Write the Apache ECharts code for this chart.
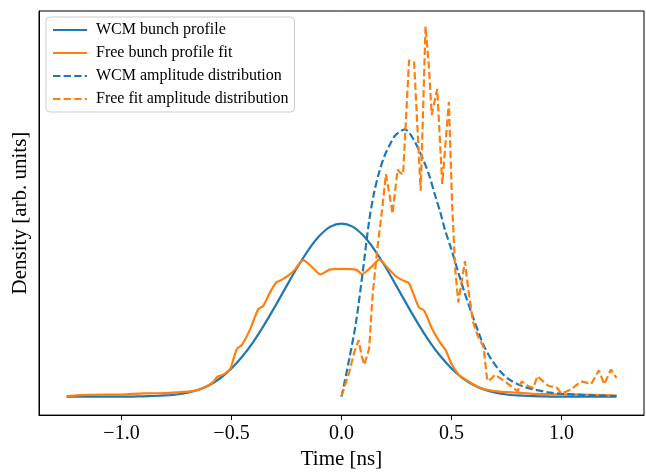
<!DOCTYPE html>
<html><head><meta charset="utf-8">
<script src="https://cdn.jsdelivr.net/npm/echarts@6/dist/echarts.min.js"></script>
<style>html,body{margin:0;padding:0;background:#fff}#c{width:646px;height:475px}</style>
</head><body><div id="c"></div>
<script>
// x tick labels (ns)
const xTicks = [-1.0, -0.5, 0.0, 0.5, 1.0];

// WCM bunch profile (solid blue)
const wcmX = [-1.25,-1.2,-1.15,-1.1,-1.05,-1.0,-0.95,-0.9,-0.85,-0.8,-0.75,-0.7,-0.65,-0.6,-0.55,-0.5,-0.45,-0.4,-0.35,-0.3,-0.25,-0.2,-0.15,-0.1,-0.05,0,
  0.05,0.1,0.15,0.2,0.25,0.3,0.35,0.4,0.45,0.5,0.55,0.6,0.65,0.7,0.75,0.8,0.85,0.9,0.95,1.0,1.05,1.1,1.15,1.2,1.25];
const wcmY = [0,0,0,0.01,0.01,0.02,0.05,0.1,0.2,0.35,0.6,1.1,1.9,3.2,5.1,7.7,11.0,15.0,19.7,24.8,30.1,35.3,40.0,43.8,46.3,47.1,
  46.3,43.8,40.0,35.3,30.1,24.8,19.7,15.0,11.0,7.7,5.1,3.2,1.9,1.1,0.6,0.35,0.2,0.1,0.05,0.02,0.01,0.01,0,0,0];

// Free bunch profile fit (solid orange)
const freeX = [-1.25,-1.15,-1.0,-0.9,-0.8,-0.72,-0.67,-0.62,-0.58,-0.565,-0.536,-0.506,-0.49,-0.475,-0.453,-0.415,-0.378,-0.356,-0.325,-0.295,-0.272,-0.235,-0.212,-0.175,-0.13,
  -0.095,-0.054,0.0,0.066,0.093,0.13,0.172,0.209,0.247,0.284,0.307,0.352,0.375,0.412,0.445,0.473,0.502,0.533,0.563,0.623,0.668,0.73,0.80,0.873,1.03,1.15,1.25];
const freeY = [0.2,0.5,0.6,0.9,1.0,1.3,1.6,2.6,4.2,5.4,6.1,7.6,10.5,13.0,14.1,18.4,23.9,24.7,28.4,31.2,31.8,33.3,34.6,37.2,35.1,
  33.3,34.6,34.8,34.6,33.4,35.0,37.3,35.1,32.8,31.5,30.9,24.3,23.5,18.5,15.0,12.7,8.7,6.0,4.7,2.6,1.8,1.3,1.1,0.8,0.64,0.5,0.3];

// WCM amplitude distribution (dashed blue)
const wcmAmpX = [0,0.036,0.066,0.096,0.126,0.148,0.172,0.195,0.217,0.241,0.262,0.288,0.307,0.33,0.353,0.375,0.397,0.427,0.45,0.47,
  0.5,0.53,0.557,0.593,0.623,0.65,0.683,0.72,0.762,0.82,0.873,0.94,1.0,1.06,1.15,1.25];
const wcmAmpY = [0,10.5,20.3,33.7,48,55.5,61.3,65.5,68.3,70.9,72,72.8,71.9,69.8,67,64,60.6,54.5,50,45.5,
  40,34,28.8,22.5,17.5,13.5,10,7,4.7,2.9,2.0,1.2,0.8,0.6,0.35,0.2];

// Free fit amplitude distribution (dashed orange)
const freeAmpX = [0,0.036,0.059,0.078,0.092,0.104,0.126,0.141,0.164,0.186,0.202,0.225,0.232,0.255,0.266,0.28,0.307,0.33,0.36,0.382,
  0.397,0.41,0.435,0.458,0.488,0.503,0.517,0.531,0.561,0.576,0.598,0.62,0.646,0.661,0.668,0.698,0.751,0.789,0.8,0.819,
  0.849,0.872,0.89,0.939,0.98,1.0,1.044,1.089,1.135,1.17,1.194,1.225,1.25];
const freeAmpY = [0.2,6.9,12.3,15.4,11,8.7,13.2,27.5,40.9,51.6,60.6,52.5,49.8,61.9,61.0,60.5,91.6,91,56.1,100.8,
  90.1,76.7,83.8,57.9,80.3,52,34.6,25.7,36.9,29.3,20.3,16.5,13.5,5.1,4.2,6.0,3.8,2.0,1.5,4.2,
  2.9,2.4,5.6,3.0,2.4,0.8,2.0,4.2,3.5,7.2,3.4,7.4,5.1];

const zip = (xs, ys) => xs.map((x, i) => [x, ys[i]]);
const BLUE = '#1f77b4', ORANGE = '#ff7f0e';
const FONT = '"Liberation Serif", "DejaVu Serif", serif';
const DASH = [7.4, 3.2];
const LW = 2.2;

const chart = echarts.init(document.getElementById('c'), null, {renderer: 'canvas'});
chart.setOption({
  animation: false,
  backgroundColor: '#fff',
  grid: {left: 39, top: 11, width: 605, height: 410, show: true, borderColor: '#000', borderWidth: 1, backgroundColor: 'transparent'},
  legend: {
    left: 46, top: 17, orient: 'vertical',
    padding: [5, 6, 5, 6], itemGap: 7, itemWidth: 34, itemHeight: 15,
    backgroundColor: 'rgba(255,255,255,0.8)', borderColor: '#cccccc', borderWidth: 1, borderRadius: 4,
    itemStyle: {opacity: 0},
    textStyle: {fontFamily: FONT, fontSize: 16, color: '#000', padding: [0, 0, 0, 4]},
    data: ['WCM bunch profile', 'Free bunch profile fit', 'WCM amplitude distribution', 'Free fit amplitude distribution']
  },
  xAxis: {
    type: 'value', min: -1.375, max: 1.375,
    name: 'Time [ns]', nameLocation: 'middle', nameGap: 30,
    nameTextStyle: {fontFamily: FONT, fontSize: 21, color: '#000'},
    axisLine: {show: true, onZero: false, lineStyle: {color: '#000', width: 1}},
    axisTick: {show: true, inside: false, length: 5, lineStyle: {color: '#000', width: 1}, customValues: xTicks},
    axisLabel: {show: true, margin: 9, fontFamily: FONT, fontSize: 20, color: '#000', customValues: xTicks,
      formatter: v => v.toFixed(1).replace('-', '\u2212')},
    splitLine: {show: false}
  },
  yAxis: {
    type: 'value', min: -5, max: 105,
    name: 'Density [arb. units]', nameLocation: 'middle', nameGap: 8,
    nameTextStyle: {fontFamily: FONT, fontSize: 21, color: '#000'},
    axisLine: {show: true, onZero: false, lineStyle: {color: '#000', width: 1}},
    axisTick: {show: false}, axisLabel: {show: false}, splitLine: {show: false}
  },
  series: [
    {name: 'WCM bunch profile', type: 'line', data: zip(wcmX, wcmY), showSymbol: false, symbol: 'none', smooth: 0.3,
      lineStyle: {color: BLUE, width: LW}, itemStyle: {color: BLUE}},
    {name: 'Free bunch profile fit', type: 'line', data: zip(freeX, freeY), showSymbol: false, symbol: 'none', smooth: 0.25,
      lineStyle: {color: ORANGE, width: LW}, itemStyle: {color: ORANGE}},
    {name: 'WCM amplitude distribution', type: 'line', data: zip(wcmAmpX, wcmAmpY), showSymbol: false, symbol: 'none', smooth: 0.3,
      lineStyle: {color: BLUE, width: LW, type: DASH}, itemStyle: {color: BLUE}},
    {name: 'Free fit amplitude distribution', type: 'line', data: zip(freeAmpX, freeAmpY), showSymbol: false, symbol: 'none',
      lineStyle: {color: ORANGE, width: LW, type: DASH}, itemStyle: {color: ORANGE}}
  ]
});
</script>
</body></html>
